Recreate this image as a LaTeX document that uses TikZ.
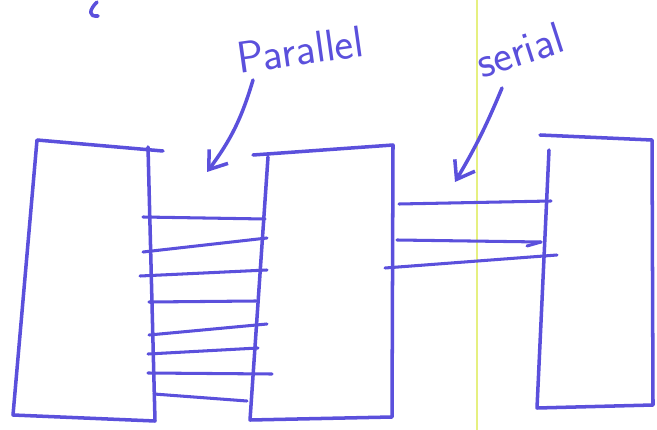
\documentclass[tikz,border=0pt]{standalone}
\usetikzlibrary{arrows.meta}
\begin{document}
\begin{tikzpicture}[x=0.03cm,y=-0.03cm,font=\sffamily,
  pen/.style={penblue,line width=3pt,line cap=round,line join=round},
  wire/.style={penblue,line width=2.6pt,line cap=round},
  barb/.style={-{Straight Barb[length=14pt,width=20pt,line width=3pt]}}]
\definecolor{penblue}{HTML}{5B50DC}
\definecolor{guideyellow}{HTML}{E6F080}
\useasboundingbox (0,0) rectangle (657,430);
\draw[guideyellow,line width=1pt] (477,0)--(477,430);
\draw[pen] (97,2) .. controls (89,10) and (88,17) .. (98,16);
\draw[pen] (163,151)--(37,140)--(13,415)--(155,421)--(148,147);
\draw[pen] (253,155)--(393,145)--(392,417)--(250,420)--(268,157);
\draw[pen] (549,150)--(537,408)--(653,405)--(652,140)--(540,135);
\foreach \xa/\ya/\xb/\yb in {143/217/265/219, 143/252/267/238, 140/276/267/270,
  149/302/256/301, 149/335/267/324, 148/354/258/348, 148/373/272/374, 154/394/247/401}
  \draw[wire] (\xa,\ya) -- (\xb,\yb);
\foreach \xa/\ya/\xb/\yb in {399/204/551/201, 397/240/541/242, 385/268/557/255}
  \draw[wire] (\xa,\ya) -- (\xb,\yb);
\draw[wire] (527,246)--(541,242);
\node[penblue,rotate=8,font=\sffamily\fontsize{38}{40}\selectfont] (parlabel) at (300,50) {Parallel};
\node[penblue,rotate=18,font=\sffamily\fontsize{38}{40}\selectfont] (serlabel) at (520,50) {serial};
\coordinate (partip) at (207,172);
\coordinate (sertip) at (455,182);
\draw[pen,barb] (253,80) to[bend left=10] (partip);
\draw[pen,barb] (502,88) to[bend left=4] (sertip);
\end{tikzpicture}
\end{document}
